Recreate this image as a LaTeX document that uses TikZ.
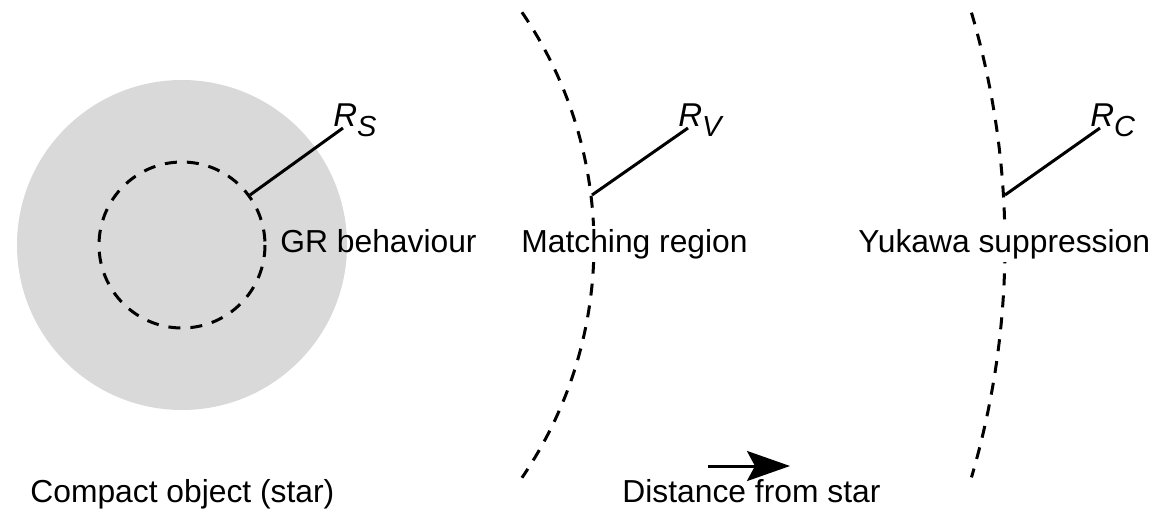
\documentclass[tikz,border=0pt]{standalone}
\usepackage{fontspec}
\setmainfont{Liberation Sans}
\usetikzlibrary{arrows.meta}
\definecolor{diskgray}{HTML}{D9D9D9}
\begin{document}
\begin{tikzpicture}[x=0.5pt,y=-0.5pt,
  dashline/.style={line width=1.5pt,dash pattern=on 6pt off 5pt},
  radline/.style={line width=1.5pt},
  lbl/.style={anchor=base west,inner sep=0pt,font=\fontsize{15.9}{19}\selectfont},
  lblfill/.style={lbl,fill=white,inner ysep=1.5pt},
  rlabel/.style={anchor=base west,inner sep=0pt}]
\useasboundingbox (0,0) rectangle (1157,509);
\coordinate (c) at (182,245);
% star disk and inner dashed circle
\fill[diskgray] (c) circle[radius=165];
\draw[dashline] (c) circle[radius=83];
% arcs
\draw[dashline] (c) ++(-34.4:412) arc[start angle=-34.4,end angle=34.4,radius=412];
\draw[dashline] (c) ++(-16.4:823) arc[start angle=-16.4,end angle=16.4,radius=823];
% texts
\node[lbl] (gr) at (280,252) {GR behaviour};
\node[lblfill] (match) at (521,252) {Matching region};
\node[lblfill] (yuk) at (858,252) {Yukawa suppression};
\node[lbl] (compact) at (30,502) {Compact object (star)};
\node[lbl] (dist) at (622,502) {Distance from star};
% radius labels
\newcommand{\rlab}[1]{{\fontsize{16.5}{18}\selectfont\itshape R}\raisebox{-5pt}{\fontsize{14.5}{16}\selectfont\itshape #1}}
\node[rlabel] (rs) at (333,126) {\rlab{S}};
\node[rlabel] (rv) at (678,126) {\rlab{V}};
\node[rlabel] (rc) at (1090,126) {\rlab{C}};
% radius lines
\coordinate (s0) at (250,195); \coordinate (s1) at (343,128);
\coordinate (v0) at (592,195); \coordinate (v1) at (688,128);
\coordinate (c0) at (1005,195); \coordinate (c1) at (1100,128);
\draw[radline] (s0) -- (s1);
\draw[radline] (v0) -- (v1);
\draw[radline] (c0) -- (c1);
% direction arrow
\coordinate (a0) at (708,466); \coordinate (a1) at (790,466);
\draw[line width=1.5pt,-{Stealth[length=21.5pt,width=15pt,inset=4pt]}] (a0) -- (a1);
\end{tikzpicture}
\end{document}
